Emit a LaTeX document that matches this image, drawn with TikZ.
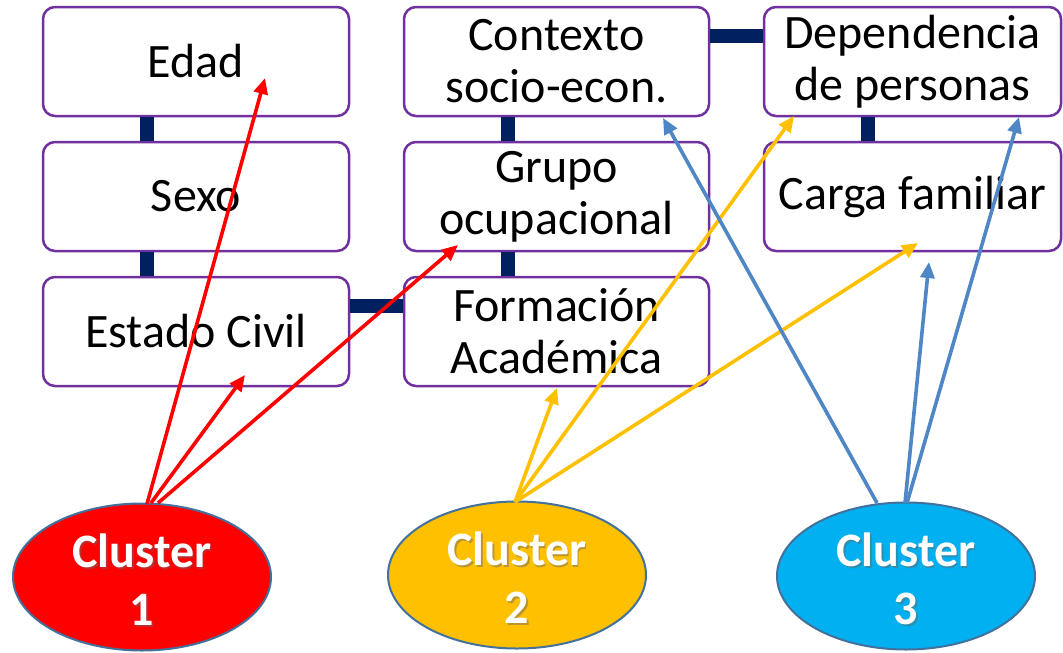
\documentclass[tikz,border=0pt]{standalone}
\usepackage{fontspec}
\setmainfont{Carlito}
\usetikzlibrary{shapes.geometric,arrows.meta}
\definecolor{boxline}{HTML}{7030A0}
\definecolor{navy}{HTML}{002060}
\definecolor{cred}{HTML}{FF0000}
\definecolor{cyellow}{HTML}{FFC000}
\definecolor{ccyan}{HTML}{00B0F0}
\definecolor{ablue}{HTML}{4F86C6}
\definecolor{eline}{HTML}{41719C}
\tikzset{
  box/.style={draw=boxline, line width=2.5pt, rounded corners=12pt, fill=white,
    minimum height=109pt, inner sep=0pt, align=center,
    font=\fontsize{48}{52}\selectfont},
  bar/.style={draw=navy, line width=14pt},
  cluster/.style={ellipse, draw=eline, line width=2pt, minimum width=258pt,
    minimum height=147pt, inner sep=0pt},
  clabel/.style={align=center, text=white, font=\bfseries\fontsize{48}{58}\selectfont},
  cshadow/.style={align=center, text=black!60, opacity=0.45, font=\bfseries\fontsize{48}{58}\selectfont},
  arr/.style={line width=3.6pt, -{Triangle[length=16pt,width=14pt]}},
}
\begin{document}
\begin{tikzpicture}[x=1pt,y=-1pt]
\useasboundingbox (0,0) rectangle (1063,653);
% boxes
\node[box, minimum width=306pt] (edad) at (196,61.5) {Edad};
\node[box, minimum width=306pt] (sexo) at (196,196.5) {Sexo};
\node[box, minimum width=306pt] (civil) at (196,331.5) {Estado Civil};
\node[box, minimum width=305pt] (ctx) at (556.5,61.5) {Contexto\\socio-econ.};
\node[box, minimum width=305pt] (grupo) at (556.5,196.5) {Grupo\\ocupacional};
\node[box, minimum width=305pt] (form) at (556.5,331.5) {Formación\\Académica};
\node[box, minimum width=297pt] (dep) at (912.5,61.5) {Dependencia\\de personas};
\node[box, minimum width=297pt] (carga) at (912.5,196.5) {Carga familiar};
% bars
\draw[bar] ([xshift=-49pt]edad.south) -- ([xshift=-49pt]sexo.north);
\draw[bar] ([xshift=-49pt]sexo.south) -- ([xshift=-49pt]civil.north);
\draw[bar] ([xshift=-48.5pt]ctx.south) -- ([xshift=-48.5pt]grupo.north);
\draw[bar] ([xshift=-48.5pt]grupo.south) -- ([xshift=-48.5pt]form.north);
\draw[bar] ([xshift=-44.5pt]dep.south) -- ([xshift=-44.5pt]carga.north);
\draw[bar] ([yshift=25.5pt]civil.east) -- ([yshift=25.5pt]form.west);
\draw[bar] ([yshift=25.5pt]ctx.east) -- ([yshift=25.5pt]dep.west);
% clusters
\node[cluster, fill=cred] (c1) at (142,577) {};
\node[cluster, fill=cyellow] (c2) at (517,575) {};
\node[cluster, fill=ccyan] (c3) at (906,576) {};
\node[cshadow] (c1s) at (143.5,581.5) {Cluster\\1};
\node[clabel] (c1t) at (142,580) {Cluster\\1};
\node[cshadow] (c2s) at (518.5,579.5) {Cluster\\2};
\node[clabel] (c2t) at (517,578) {Cluster\\2};
\node[cshadow] (c3s) at (907.5,580.5) {Cluster\\3};
\node[clabel] (c3t) at (906,579) {Cluster\\3};
% arrow ends
\coordinate (r1s) at (147,504);
\coordinate (r2s) at (151,503);
\coordinate (r3s) at (158,503);
\coordinate (r1e) at (265,78);
\coordinate (r2e) at (245,375);
\coordinate (r3e) at (458,245);
\coordinate (ys) at (515,502);
\coordinate (y1e) at (557,388);
\coordinate (y2e) at (794,116);
\coordinate (y3e) at (918,243);
\coordinate (b1s) at (877,503);
\coordinate (b2s) at (905,503);
\coordinate (b3s) at (907,503);
\coordinate (b1e) at (663,118);
\coordinate (b2e) at (929,262);
\coordinate (b3e) at (1019,117);
% arrows
\draw[arr, cred] (r1s) -- (r1e);
\draw[arr, cred] (r2s) -- (r2e);
\draw[arr, cred] (r3s) -- (r3e);
\draw[arr, cyellow] (ys) -- (y1e);
\draw[arr, cyellow] (ys) -- (y2e);
\draw[arr, cyellow] (ys) -- (y3e);
\draw[arr, ablue] (b1s) -- (b1e);
\draw[arr, ablue] (b2s) -- (b2e);
\draw[arr, ablue] (b3s) -- (b3e);
\end{tikzpicture}
\end{document}
